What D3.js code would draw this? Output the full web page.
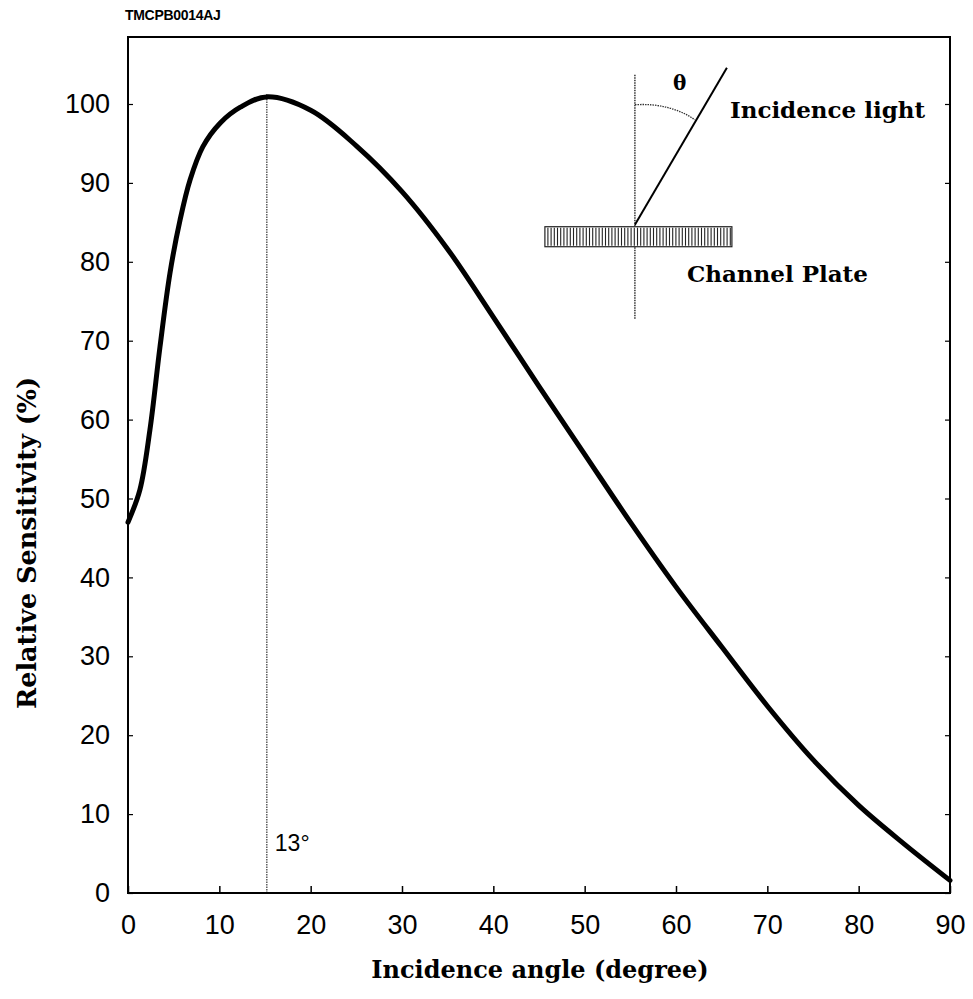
<!DOCTYPE html>
<html>
<head>
<meta charset="utf-8">
<script src="https://cdn.jsdelivr.net/npm/d3@7"></script>
<style>
  body { margin: 0; background: #fff; }
  svg { display: block; }
</style>
</head>
<body>
<script>
// curve: incidence angle (deg) vs relative sensitivity (%)
var angles = [0, 1.3, 2.4, 3.5, 4.6, 5.7, 6.8, 8.2, 10.1, 12.3, 15.2, 20, 25, 30, 35, 40, 45, 50, 55, 60, 65, 70, 75, 80, 85, 90];
var sensitivity = [47, 51.1, 58.7, 69.2, 78.6, 85.3, 90.4, 94.6, 97.6, 99.6, 100.9, 99.2, 94.7, 88.9, 81.6, 73.0, 64.2, 55.6, 47.0, 38.8, 31.2, 23.7, 16.9, 11.1, 6.2, 1.6];
var xTicks = [0, 10, 20, 30, 40, 50, 60, 70, 80, 90];
var yTicks = [0, 10, 20, 30, 40, 50, 60, 70, 80, 90, 100];
var peakAngle = 15.2;      // where the marker line sits in the picture
var peakLabel = "13°";

var width = 973,
    height = 999;

var x = d3.scaleLinear().domain([0, 90]).range([128, 950]);
var y = d3.scaleLinear().domain([0, 100]).range([893, 104]);
var yTop = y.invert(37);

var svg = d3.select('body')
  .append('svg')
  .attr('width', width)
  .attr('height', height);

svg.append('text')
  .attr('x', 125)
  .attr('y', 20)
  .attr('font-family', 'Liberation Sans, Arial, sans-serif')
  .attr('font-size', 14)
  .attr('font-weight', 'bold')
  .attr('letter-spacing', -0.3)
  .text('TMCPB0014AJ');

// 13 degree marker
svg.append('line')
  .attr('x1', x(peakAngle)).attr('x2', x(peakAngle))
  .attr('y1', y(0)).attr('y2', y(101.3))
  .attr('stroke', '#444')
  .attr('stroke-width', 1.3)
  .attr('stroke-dasharray', '1.5,1');

svg.append('text')
  .attr('x', x(peakAngle) + 8)
  .attr('y', y(5.3))
  .attr('font-family', 'Liberation Sans, Arial, sans-serif')
  .attr('font-size', 23)
  .text(peakLabel);

// frame
svg.append('rect')
  .attr('x', x(0)).attr('y', y(yTop))
  .attr('width', x(90) - x(0))
  .attr('height', y(0) - y(yTop))
  .attr('fill', 'none')
  .attr('stroke', '#000')
  .attr('stroke-width', 2);

// x axis: ticks point up inside the frame
var xAxis = d3.axisBottom(x).tickValues(xTicks).tickSize(-7).tickPadding(22);
var gx = svg.append('g')
  .attr('transform', 'translate(0,' + y(0) + ')')
  .call(xAxis);
gx.select('.domain').remove();
gx.selectAll('.tick line').attr('stroke', '#000').attr('stroke-width', 1.5);
gx.selectAll('.tick text')
  .attr('font-family', 'Liberation Sans, Arial, sans-serif')
  .attr('font-size', 27)
  .attr('fill', '#000');

var yAxis = d3.axisLeft(y).tickValues(yTicks).tickSize(-5).tickPadding(18);
var gy = svg.append('g')
  .attr('transform', 'translate(' + x(0) + ',0)')
  .call(yAxis);
gy.select('.domain').remove();
gy.selectAll('.tick line').attr('stroke', '#000').attr('stroke-width', 1.2);
gy.selectAll('.tick text')
  .attr('font-family', 'Liberation Sans, Arial, sans-serif')
  .attr('font-size', 27)
  .attr('fill', '#000');

// small ticks on right edge
var gr = svg.append('g')
  .attr('transform', 'translate(' + x(90) + ',0)')
  .call(d3.axisRight(y).tickValues(yTicks).tickSize(-5).tickFormat(''));
gr.select('.domain').remove();
gr.selectAll('.tick line').attr('stroke', '#000').attr('stroke-width', 1.2);

// curve
var line = d3.line()
  .x(function(d, i) { return x(angles[i]); })
  .y(function(d) { return y(d); })
  .curve(d3.curveCatmullRom.alpha(0.5));

svg.append('path')
  .datum(sensitivity)
  .attr('d', line)
  .attr('fill', 'none')
  .attr('stroke', '#000')
  .attr('stroke-width', 5)
  .attr('stroke-linejoin', 'round')
  .attr('stroke-linecap', 'round');

// axis titles
svg.append('text')
  .attr('x', 540)
  .attr('y', 978)
  .attr('text-anchor', 'middle')
  .attr('font-family', 'DejaVu Serif, serif')
  .attr('font-size', 24)
  .attr('font-weight', 'bold')
  .text('Incidence angle (degree)');

svg.append('text')
  .attr('transform', 'translate(36,' + 543 + ') rotate(-90)')
  .attr('text-anchor', 'middle')
  .attr('font-family', 'DejaVu Serif, serif')
  .attr('font-size', 25.5)
  .attr('font-weight', 'bold')
  .text('Relative Sensitivity (%)');

// inset sketch of the channel plate
var inset = svg.append('g')
  .attr('transform', 'translate(' + x(55.5) + ',' + y(84.7) + ')');

inset.append('line')
  .attr('x1', 0).attr('x2', 0)
  .attr('y1', -150).attr('y2', 95)
  .attr('stroke', '#333')
  .attr('stroke-width', 1.5)
  .attr('stroke-dasharray', '1.5,1');

var plate = inset.append('g').attr('transform', 'translate(-90,2)');
plate.append('rect')
  .attr('width', 187).attr('height', 20)
  .attr('fill', '#fff')
  .attr('stroke', '#222')
  .attr('stroke-width', 1.2);
plate.selectAll('line')
  .data(d3.range(3, 187, 3.2))
  .enter()
  .append('line')
  .attr('x1', function(d) { return d; })
  .attr('x2', function(d) { return d; })
  .attr('y1', 1).attr('y2', 19)
  .attr('stroke', '#222')
  .attr('stroke-width', 1.1);

inset.append('line')
  .attr('x1', 0).attr('y1', 0)
  .attr('x2', 92).attr('y2', -157)
  .attr('stroke', '#000')
  .attr('stroke-width', 2);

inset.append('path')
  .attr('d', 'M0,-120 Q35,-122 60,-105')
  .attr('fill', 'none')
  .attr('stroke', '#333')
  .attr('stroke-width', 1.3)
  .attr('stroke-dasharray', '1.5,1');

inset.append('text')
  .attr('x', 38).attr('y', -135)
  .attr('font-family', 'DejaVu Serif, serif')
  .attr('font-size', 20)
  .attr('font-weight', 'bold')
  .text('θ');

inset.append('text')
  .attr('x', 95).attr('y', -107)
  .attr('font-family', 'DejaVu Serif, serif')
  .attr('font-size', 23)
  .attr('font-weight', 'bold')
  .text('Incidence light');

inset.append('text')
  .attr('x', 52).attr('y', 57)
  .attr('font-family', 'DejaVu Serif, serif')
  .attr('font-size', 23)
  .attr('font-weight', 'bold')
  .text('Channel Plate');
</script>
</body>
</html>
